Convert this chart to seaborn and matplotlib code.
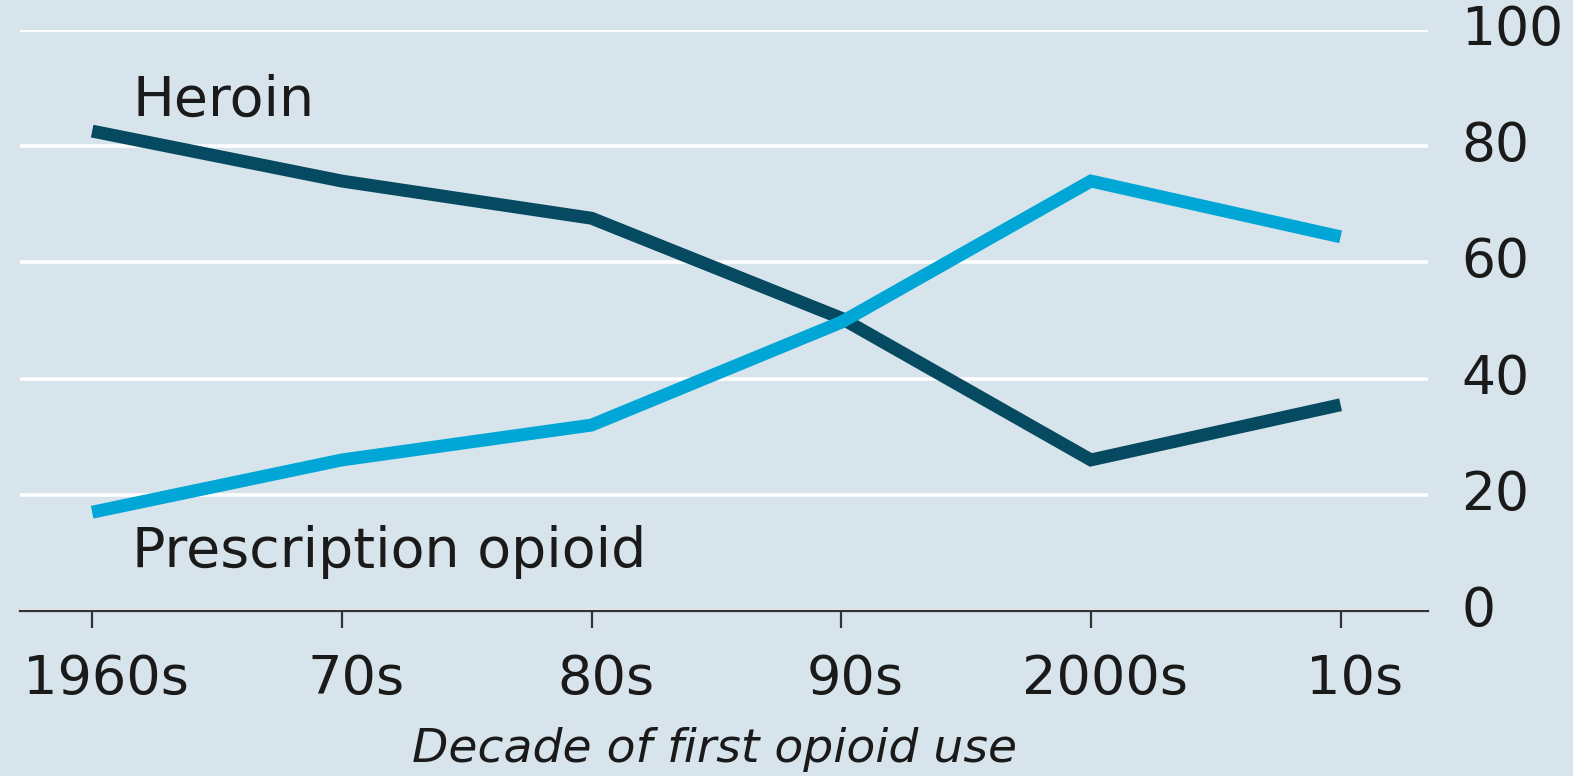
import matplotlib
matplotlib.use("Agg")
import matplotlib.pyplot as plt
import matplotlib.transforms as mtransforms
import seaborn as sns
import pandas as pd

decades = ["1960s", "70s", "80s", "90s", "2000s", "10s"]
heroin = [82.6, 74.0, 67.6, 50.4, 26.0, 35.5]
prescription = [17.0, 26.0, 32.0, 49.7, 74.0, 64.4]
yticks = [0, 20, 40, 60, 80, 100]

BG = "#d8e4eb"
HEROIN_C = "#064a62"
PRESC_C = "#00a6d6"
TEXT_C = "#1a1a1a"

sns.set_theme(style="white")
plt.rcParams["font.family"] = ["DejaVu Sans"]

fig = plt.figure(figsize=(15.73, 7.76), dpi=100, facecolor=BG)
ax = fig.add_axes([20 / 1573, (776 - 611) / 776, (1428 - 20) / 1573, (611 - 30) / 776])
ax.set_facecolor(BG)

idx = list(range(len(decades)))
df = pd.DataFrame({"x": idx, "Heroin": heroin, "Prescription opioid": prescription})

sns.lineplot(data=df, x="x", y="Heroin", ax=ax, color=HEROIN_C, linewidth=9.3,
             solid_capstyle="butt", solid_joinstyle="miter", zorder=3)
sns.lineplot(data=df, x="x", y="Prescription opioid", ax=ax, color=PRESC_C, linewidth=9.3,
             solid_capstyle="butt", solid_joinstyle="miter", zorder=4)

ax.set_xlim(-0.289, 5.35)
ax.set_ylim(0, 100)

ax.set_yticks(yticks)
ax.set_yticklabels([str(v) for v in yticks])
ax.yaxis.tick_right()
ax.tick_params(axis="y", length=0, pad=24, labelsize=38.5, labelcolor=TEXT_C)
for lab in ax.get_yticklabels():
    lab.set_verticalalignment("center")
    lab.set_horizontalalignment("left")

ax.set_xticks(idx)
ax.set_xticklabels(decades)
ax.tick_params(axis="x", length=12, width=1.6, color="#333333", pad=18,
               labelsize=39, labelcolor=TEXT_C, direction="out", bottom=True)
shift = mtransforms.ScaledTranslation(14 / 100, 0, fig.dpi_scale_trans)
for lab in ax.get_xticklabels():
    lab.set_transform(lab.get_transform() + shift)

ax.grid(axis="y", color="white", linewidth=2.6)
ax.grid(axis="x", visible=False)
for s in ["top", "left", "right"]:
    ax.spines[s].set_visible(False)
ax.spines["bottom"].set_color("#333333")
ax.spines["bottom"].set_linewidth(1.6)
ax.spines["bottom"].set_zorder(5)
ax.set_axisbelow(True)

ax.set_xlabel("")
ax.set_ylabel("")

ax.text(0.16, 85.2, "Heroin", fontsize=40, color=TEXT_C, ha="left", va="baseline")
ax.text(0.16, 7.5, "Prescription opioid", fontsize=40, color=TEXT_C, ha="left", va="baseline")

fig.text(715 / 1573, (776 - 762) / 776, "Decade of first opioid use", fontsize=34,
         style="italic", color=TEXT_C, ha="center", va="baseline")

fig.savefig("out.png", dpi=100, facecolor=BG)
